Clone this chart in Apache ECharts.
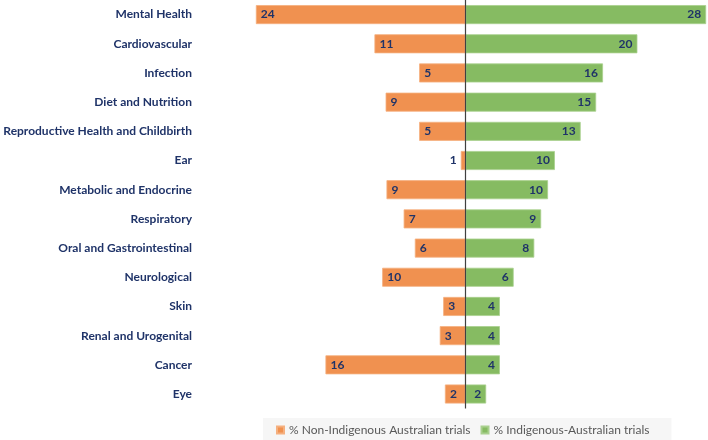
<!DOCTYPE html>
<html>
<head>
<meta charset="utf-8">
<script src="https://cdn.jsdelivr.net/npm/echarts@6/dist/echarts.min.js"></script>
<style>html,body{margin:0;padding:0;background:#fff;}#c{width:708px;height:440px;}</style>
</head>
<body>
<div id="c"></div>
<script>
const categories = ["Mental Health","Cardiovascular","Infection","Diet and Nutrition","Reproductive Health and Childbirth","Ear","Metabolic and Endocrine","Respiratory","Oral and Gastrointestinal","Neurological","Skin","Renal and Urogenital","Cancer","Eye"];
// % Non-Indigenous Australian trials (estimated underlying values; labels rounded)
const nonIndigenous = [24.4,10.6,5.4,9.3,5.4,0.55,9.2,7.2,5.9,9.7,2.6,3.0,16.3,2.4];
// % Indigenous-Australian trials
const indigenous = [28.0,20.0,16.0,15.2,13.4,10.4,9.6,8.8,8.0,5.6,4.0,4.0,4.0,2.4];
const seriesNames = ["% Non-Indigenous Australian trials","% Indigenous-Australian trials"];

const navy = '#1F3368';
const chart = echarts.init(document.getElementById('c'), null, {renderer:'canvas'});
chart.setOption({
  animation:false,
  textStyle:{fontFamily:'Lato'},
  grid:{left:255,right:1,top:0,bottom:31.4},
  xAxis:{type:'value',min:-24.5,max:28.1,show:false},
  yAxis:{type:'category',data:categories,inverse:true,
    axisLine:{show:false},axisTick:{show:false},splitLine:{show:false},
    axisLabel:{margin:63,color:navy,fontWeight:'bold',fontSize:12,fontFamily:'Lato'}},
  legend:{data:seriesNames,left:263,top:418,itemWidth:7,itemHeight:7,icon:'rect',itemGap:10,
    padding:[6,22,6,13],backgroundColor:'#F6F6F6',
    textStyle:{color:'#595959',fontSize:12,fontFamily:'Lato'}},
  series:[
    {name:seriesNames[0],type:'bar',barWidth:19,barGap:'-100%',
     itemStyle:{color:'#F09150',borderColor:'#F5B07F',borderWidth:0.8},
     data:nonIndigenous.map(v=>{
       const d={value:-v};
       if(v<1.5){d.label={position:'left',distance:4};}
       return d;}),
     label:{show:true,position:'insideLeft',distance:5,color:navy,fontWeight:'bold',fontSize:12,fontFamily:'Lato',
       formatter:p=>Math.round(Math.abs(p.value))},
     markLine:{silent:true,symbol:'none',label:{show:false},lineStyle:{color:'#404040',width:1.2,type:'solid'},
       data:[{xAxis:0}]}
    },
    {name:seriesNames[1],type:'bar',barWidth:19,
     itemStyle:{color:'#86BB62',borderColor:'#A9D08E',borderWidth:0.8},
     data:indigenous,
     label:{show:true,position:'insideRight',distance:5,color:navy,fontWeight:'bold',fontSize:12,fontFamily:'Lato',
       formatter:p=>Math.round(p.value)}
    }
  ]
});
</script>
</body>
</html>
